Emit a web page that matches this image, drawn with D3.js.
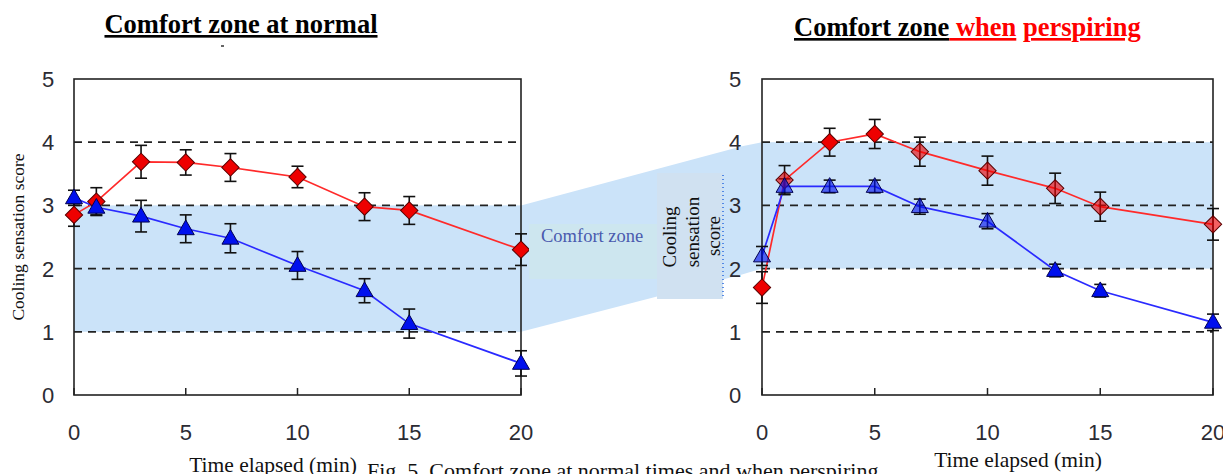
<!DOCTYPE html>
<html>
<head>
<meta charset="utf-8">
<script src="https://cdn.jsdelivr.net/npm/d3@7"></script>
<style>
  body { margin: 0; background: #fff; }
  svg { display: block; }
</style>
</head>
<body>
<div id="chart"></div>
<script>
// chart data
var times = [0, 1, 3, 5, 7, 10, 13, 15, 20];
var xTicks = [0, 5, 10, 15, 20];
var yTicks = [0, 1, 2, 3, 4, 5];
var gridLines = [1, 2, 3, 4];

// normal
var normalRed = [2.85, 3.06, 3.69, 3.68, 3.60, 3.45, 2.98, 2.92, 2.30];
var normalRedErr = [0.18, 0.22, 0.26, 0.2, 0.22, 0.17, 0.22, 0.22, 0.25];
var normalBlue = [3.12, 2.97, 2.83, 2.63, 2.48, 2.05, 1.65, 1.13, 0.50];
var normalBlueErr = [0.12, 0.12, 0.25, 0.22, 0.23, 0.22, 0.19, 0.23, 0.2];
var normalZone = [1, 3];

// perspiring
var perspRed = [1.70, 3.40, 4.00, 4.13, 3.85, 3.55, 3.27, 2.98, 2.70];
var perspRedErr = [0.25, 0.23, 0.22, 0.23, 0.23, 0.23, 0.24, 0.23, 0.25];
var perspBlue = [2.20, 3.30, 3.30, 3.30, 2.98, 2.75, 1.97, 1.65, 1.15];
var perspBlueErr = [0.15, 0.12, 0.1, 0.1, 0.12, 0.12, 0.1, 0.1, 0.13];
var perspZone = [2, 4];

var svgWidth = 1223;
var svgHeight = 474;

var svg = d3.select("#chart")
  .append("svg")
  .attr("width", svgWidth)
  .attr("height", svgHeight);

var serif = "'Liberation Serif', 'Times New Roman', serif";
var sans = "'Liberation Sans', Arial, sans-serif";

var panels = [
  { left: 74, right: 521, top: 79, bottom: 395, red: normalRed, redErr: normalRedErr,
    blue: normalBlue, blueErr: normalBlueErr, zone: normalZone, labelX: 48, alpha: 1,
    titleX: 273, titleY: 472 },
  { left: 762, right: 1213, top: 79, bottom: 395, red: perspRed, redErr: perspRedErr,
    blue: perspBlue, blueErr: perspBlueErr, zone: perspZone, labelX: 735, alpha: 0.62,
    titleX: 1018, titleY: 467 }
];

panels.forEach(p => {
  p.x = d3.scaleLinear().domain([0, 20]).range([p.left, p.right]);
  p.y = d3.scaleLinear().domain([0, 5]).range([p.bottom, p.top]);
});

var bandColor = "#cbe3f9";
var L = panels[0], R = panels[1];

// connecting band between the two comfort zones
svg.append("path")
  .attr("d", d3.line()([
    [L.right, L.y(L.zone[1])], [R.left - 20, R.y(R.zone[1]) + 4], [R.left, R.y(R.zone[1])],
    [R.left, R.y(R.zone[0])], [R.left - 20, R.y(R.zone[0]) + 6], [L.right, L.y(L.zone[0])]
  ]) + "Z")
  .attr("fill", bandColor);

panels.forEach(p => {
  var g = svg.append("g");

  // comfort band
  g.append("rect")
    .attr("x", p.left).attr("y", p.y(p.zone[1]))
    .attr("width", p.right - p.left)
    .attr("height", p.y(p.zone[0]) - p.y(p.zone[1]))
    .attr("fill", bandColor);

  // dashed lines
  g.selectAll(".grid").data(gridLines).join("line")
    .attr("x1", p.left).attr("x2", p.right)
    .attr("y1", d => p.y(d)).attr("y2", d => p.y(d))
    .attr("stroke", "#222").attr("stroke-width", 1.7)
    .attr("stroke-dasharray", "8,6");

  // frame
  g.append("rect")
    .attr("x", p.left).attr("y", p.top)
    .attr("width", p.right - p.left).attr("height", p.bottom - p.top)
    .attr("fill", "none").attr("stroke", "#222").attr("stroke-width", 1.6);

  // inner x ticks
  g.selectAll(".xt").data(xTicks).join("line")
    .attr("x1", d => p.x(d)).attr("x2", d => p.x(d))
    .attr("y1", p.bottom).attr("y2", p.bottom - 7)
    .attr("stroke", "#222").attr("stroke-width", 1.5);

  // tick labels
  g.selectAll(".xl").data(xTicks).join("text")
    .attr("x", d => p.x(d)).attr("y", p.bottom + 45)
    .attr("text-anchor", "middle")
    .attr("font-family", sans).attr("font-size", "22px").attr("fill", "#2b2b33")
    .text(d => d);

  g.selectAll(".yl").data(yTicks).join("text")
    .attr("x", p.labelX).attr("y", d => p.y(d) + 8)
    .attr("text-anchor", "middle")
    .attr("font-family", sans).attr("font-size", "22px").attr("fill", "#2b2b33")
    .text(d => d);

  // x title
  g.append("text")
    .attr("x", p.titleX).attr("y", p.titleY)
    .attr("text-anchor", "middle")
    .attr("font-family", serif).attr("font-size", "21.5px").attr("fill", "#111")
    .text("Time elapsed (min)");

  var series = [
    { vals: p.red, err: p.redErr, line: "#ff2a2a", fill: "#ee0000", stroke: "#5a0000", shape: d3.symbolSquare, size: 150, rot: 45 },
    { vals: p.blue, err: p.blueErr, line: "#2a2aff", fill: "#0010ee", stroke: "#000050", shape: d3.symbolTriangle, size: 125, rot: 0 }
  ];

  series.forEach(s => {
    g.append("path")
      .attr("d", d3.line().x((d, i) => p.x(times[i])).y(d => p.y(d))(s.vals))
      .attr("fill", "none").attr("stroke", s.line).attr("stroke-width", 1.7);

    // error bars
    var eb = g.append("g").attr("stroke", "#111").attr("stroke-width", 1.6);
    s.vals.forEach((v, i) => {
      var cx = p.x(times[i]);
      var y1 = p.y(v + s.err[i]), y2 = p.y(v - s.err[i]);
      eb.append("line").attr("x1", cx).attr("x2", cx).attr("y1", y1).attr("y2", y2);
      eb.append("line").attr("x1", cx - 6).attr("x2", cx + 6).attr("y1", y1).attr("y2", y1);
      eb.append("line").attr("x1", cx - 6).attr("x2", cx + 6).attr("y1", y2).attr("y2", y2);
    });
  });

  series.forEach(s => {
    g.selectAll(null).data(s.vals).join("path")
      .attr("transform", (d, i) => {
        var dy = s.shape === d3.symbolTriangle ? 1 : 0;
        return `translate(${p.x(times[i])},${p.y(d) + dy}) rotate(${s.rot})`;
      })
      .attr("d", d3.symbol().type(s.shape).size(s.size))
      .attr("fill", s.fill)
      .attr("fill-opacity", d => (d > p.zone[0] && d < p.zone[1]) ? p.alpha : 1)
      .attr("stroke", s.stroke).attr("stroke-width", 1);
  });
});

// left y title
svg.append("text")
  .attr("transform", "translate(24,237) rotate(-90)")
  .attr("text-anchor", "middle")
  .attr("font-family", serif).attr("font-size", "17.5px").attr("fill", "#111")
  .text("Cooling sensation score");

// comfort zone label box
svg.append("rect")
  .attr("x", 529).attr("y", 224).attr("width", 130).attr("height", 55)
  .attr("fill", "#cde6ef");
svg.append("text")
  .attr("x", 541).attr("y", 242)
  .attr("font-family", serif).attr("font-size", "18.5px").attr("fill", "#4a5aae")
  .text("Comfort zone");

// cooling sensation label box
svg.append("rect")
  .attr("x", 657).attr("y", 173).attr("width", 66).attr("height", 126)
  .attr("fill", "#d0e1f1");
svg.append("line")
  .attr("x1", 723).attr("x2", 723).attr("y1", 175).attr("y2", 298)
  .attr("stroke", "#2a6be0").attr("stroke-width", 1.5).attr("stroke-dasharray", "1,3");
[["Cooling", 676, 237], ["sensation", 699, 232], ["score", 720, 236]].forEach(t => {
  svg.append("text")
    .attr("transform", `translate(${t[1]},${t[2]}) rotate(-90)`)
    .attr("text-anchor", "middle")
    .attr("font-family", serif).attr("font-size", "19px").attr("fill", "#111")
    .text(t[0]);
});

// titles
svg.append("text")
  .attr("x", 241).attr("y", 33)
  .attr("text-anchor", "middle")
  .attr("font-family", serif).attr("font-size", "26.5px").attr("font-weight", "bold")
  .attr("fill", "#000").style("text-decoration", "underline")
  .text("Comfort zone at normal");
svg.append("line")
  .attr("x1", 221).attr("x2", 224).attr("y1", 46).attr("y2", 46)
  .attr("stroke", "#333").attr("stroke-width", 1.5);

var t2 = svg.append("text")
  .attr("x", 794).attr("y", 36)
  .attr("font-family", serif).attr("font-size", "26.5px").attr("font-weight", "bold");
t2.append("tspan").attr("fill", "#000").style("text-decoration", "underline").text("Comfort zone");
t2.append("tspan").attr("fill", "#ff0000").style("text-decoration", "underline").text(" when");
t2.append("tspan").attr("fill", "#ff0000").text(" ");
t2.append("tspan").attr("fill", "#ff0000").style("text-decoration", "underline").text("perspiring");

// caption, cut off at the bottom edge
svg.append("text")
  .attr("x", 367).attr("y", 478)
  .attr("font-family", serif).attr("font-size", "22px").attr("fill", "#111")
  .text("Fig. 5. Comfort zone at normal times and when perspiring");
</script>
</body>
</html>
